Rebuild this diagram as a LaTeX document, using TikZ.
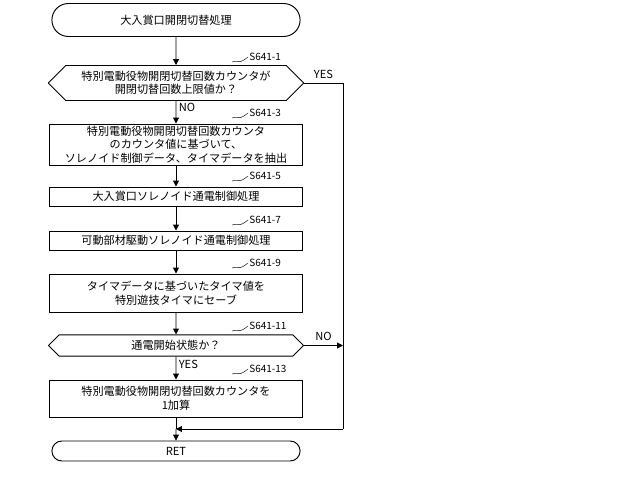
\documentclass[tikz,border=0pt]{standalone}
\usepackage{fontspec}
\setmainfont{Noto Sans CJK JP}
\usetikzlibrary{shapes.misc,arrows.meta}

\tikzset{
  proc/.style={draw, thick, minimum width=253*0.03cm, align=center, inner sep=1pt},
  term/.style={draw, thick, rounded rectangle, minimum width=256*0.03cm, align=center},
  cond/.style={draw, thick, chamfered rectangle, chamfered rectangle xsep=14*0.03cm, minimum width=255*0.03cm, align=center, inner sep=1pt},
  steplabel/.style={anchor=west, font=\fontsize{8.5}{10}\selectfont, inner sep=1pt},
  flow/.style={thick, -{Triangle[length=5pt,width=5pt]}}
}

\begin{document}
\begin{tikzpicture}[x=0.03cm, y=-0.03cm, font=\fontsize{9.5}{11.5}\selectfont]
        \useasboundingbox (0,0) rectangle (640,478);

        % terminals and boxes
        \node[term, minimum height=33*0.03cm] (start) at (176,20) {大入賞口開閉切替処理};
        \node[cond, minimum height=35*0.03cm] (q1) at (176,83) {特別電動役物開閉切替回数カウンタが\\開閉切替回数上限値か？};
        \node[proc, minimum height=41*0.03cm] (s3) at (176,144.5) {特別電動役物開閉切替回数カウンタ\\のカウンタ値に基づいて、\\ソレノイド制御データ、タイマデータを抽出};
        \node[proc, minimum height=19*0.03cm] (s5) at (176,196.5) {大入賞口ソレノイド通電制御処理};
        \node[proc, minimum height=19*0.03cm] (s7) at (176,240.5) {可動部材駆動ソレノイド通電制御処理};
        \node[proc, minimum height=38*0.03cm] (s9) at (176,293) {タイマデータに基づいたタイマ値を\\特別遊技タイマにセーブ};
        \node[cond, minimum height=19*0.03cm] (q11) at (176,345.5) {通電開始状態か？};
        \node[proc, minimum height=37*0.03cm] (s13) at (176,398.5) {特別電動役物開閉切替回数カウンタを\\1加算};
        \node[term, minimum height=20*0.03cm] (ret) at (176,451) {RET};
        \coordinate (join) at (176,429);
        \coordinate (rt) at (343,83);
        \coordinate (rb) at (343,429);

        % step labels
        \foreach \nd/\y/\txt in {q1/57/S641-1, s3/113/S641-3, s5/176/S641-5, s7/220/S641-7, s9/263/S641-9, q11/326/S641-11, s13/369/S641-13} {
            \draw (232,\y+5) .. controls (240,\y+3) and (238,\y+8) .. (248,\y);
            \node[steplabel] at (248,\y) {\txt};
        }

        % connectors
        \draw[flow] (start) -- (q1);
        \draw[flow] (q1) -- node[right, pos=0.3, inner sep=2pt] {NO} (s3);
        \draw[flow] (s3) -- (s5);
        \draw[flow] (s5) -- (s7);
        \draw[flow] (s7) -- (s9);
        \draw[flow] (s9) -- (q11);
        \draw[flow] (q11) -- node[right, pos=0.35, inner sep=2pt] {YES} (s13);
        \draw[thick] (s13) -- (join);
        \draw[flow] (join) -- (ret);
        \draw[thick] (q1.east) -- node[above, pos=0.5] {YES} (rt) -- (rb);
        \draw[flow] (q11.east) -- node[above] {NO} (343,345.5);
        \draw[flow] (rb) -- (join);
    \end{tikzpicture}
\end{document}
